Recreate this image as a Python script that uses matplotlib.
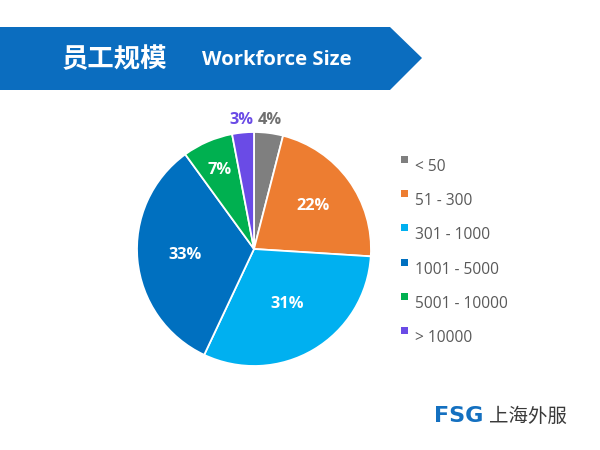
import matplotlib
matplotlib.use("Agg")
import matplotlib.pyplot as plt
from matplotlib.patches import Polygon
import numpy as np

plt.rcParams['font.family'] = ['Open Sans', 'Noto Sans CJK SC', 'DejaVu Sans']

categories = ["< 50", "51 - 300", "301 - 1000", "1001 - 5000", "5001 - 10000", "> 10000"]
values = [4, 22, 31, 33, 7, 3]
colors = ["#7F7F7F", "#ED7D31", "#00B0F0", "#0070C0", "#00B050", "#6A4BE6"]
label_colors = ["#707070", "white", "white", "white", "white", "#6A4BE6"]
label_radius = [1.11, 0.62, 0.55, 0.59, 0.74, 1.11]

W, H = 600, 450
fig = plt.figure(figsize=(6, 4.5), dpi=100)
fig.patch.set_facecolor("white")

def fx(x): return x / W
def fy(y): return 1 - y / H

# banner
banner = Polygon([(fx(0), fy(27)), (fx(390), fy(27)), (fx(422), fy(58)),
                  (fx(390), fy(90)), (fx(0), fy(90))],
                 closed=True, transform=fig.transFigure,
                 facecolor="#0B6DBF", edgecolor="none")
fig.patches.append(banner)
fig.text(fx(62), fy(60), "员工规模", color="white", fontsize=19, fontweight="bold",
         family=['Noto Sans CJK SC'], va="center", ha="left")
fig.text(fx(202), fy(60), "Workforce Size", color="white", fontsize=14.6, fontweight="bold",
         family=['Open Sans', 'DejaVu Sans'], va="center", ha="left")

# pie
cx, cy, r = 254, 249, 117
ax = fig.add_axes([fx(cx - r), fy(cy + r), 2 * r / W, 2 * r / H])
wedges, _ = ax.pie(values, colors=colors, startangle=90, counterclock=False,
                   wedgeprops=dict(edgecolor="white", linewidth=1.3))
ax.set_xlim(-1, 1)
ax.set_ylim(-1, 1)
ax.set_aspect("equal")
ax.axis("off")

cum = np.cumsum([0] + values[:-1])
total = sum(values)
for v, c0, lc, lr in zip(values, cum, label_colors, label_radius):
    ang = np.deg2rad(90 - (c0 + v / 2) / total * 360)
    ax.text(lr * np.cos(ang), lr * np.sin(ang), f"{v}%", color=lc,
            fontsize=11.8, fontweight="bold", ha="center", va="center")

# legend
ys = [164, 198, 232, 267, 301, 335]
for cat, col, y in zip(categories, colors, ys):
    fig.patches.append(plt.Rectangle((fx(401), fy(y - 1)), 7 / W, 7 / H,
                                     transform=fig.transFigure, facecolor=col,
                                     edgecolor="none"))
    fig.text(fx(415), fy(y + 3), cat, color="#595959", fontsize=11.2,
             va="center", ha="left")

# logo
fig.text(fx(434), fy(416), "FSG", color="#1470C0", fontsize=16, fontweight="bold",
         family=['DejaVu Sans'], va="center", ha="left")
fig.text(fx(489), fy(416), "上海外服", color="#3A3A3A", fontsize=14, fontweight="medium",
         family=['Noto Sans CJK SC'], va="center", ha="left")

fig.savefig("out.png", dpi=100, facecolor="white")
